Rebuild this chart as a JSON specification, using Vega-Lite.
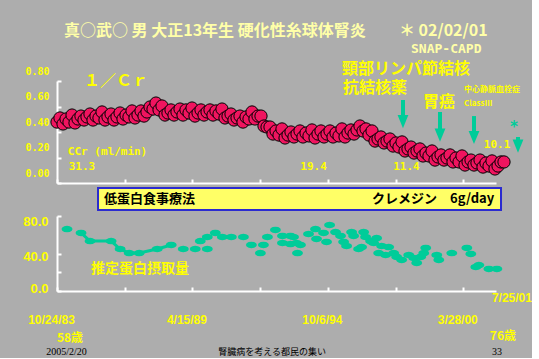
{
 "$schema": "https://vega.github.io/schema/vega-lite/v6.json",
 "background": "#ADADAD",
 "padding": {"left": 22, "top": 23, "right": 0, "bottom": 0},
 "autosize": {"type": "pad"},
 "bounds": "flush",
 "spacing": 33,
 "config": {
  "view": {"stroke": null},
  "axis": {"domainColor": "white", "domainWidth": 2, "tickColor": "white", "tickWidth": 2, "tickSize": -4, "grid": false, "labelColor": "#FFFF00", "labelFlush": false, "labelOverlap": false}
 },
 "datasets": {
  "cr": [
   {"d":0,"v":0.478},{"d":44,"v":0.510},{"d":89,"v":0.463},{"d":133,"v":0.502},{"d":177,"v":0.478},{"d":222,"v":0.533},{"d":266,"v":0.471},{"d":310,"v":0.502},{"d":354,"v":0.525},{"d":399,"v":0.494},
   {"d":443,"v":0.518},{"d":487,"v":0.541},{"d":532,"v":0.494},{"d":576,"v":0.525},{"d":620,"v":0.510},{"d":665,"v":0.557},{"d":709,"v":0.494},{"d":753,"v":0.518},{"d":798,"v":0.541},{"d":842,"v":0.494},
   {"d":886,"v":0.518},{"d":931,"v":0.549},{"d":975,"v":0.502},{"d":1019,"v":0.533},{"d":1063,"v":0.518},{"d":1108,"v":0.565},{"d":1152,"v":0.510},{"d":1196,"v":0.533},{"d":1241,"v":0.565},{"d":1285,"v":0.525},
   {"d":1329,"v":0.557},{"d":1374,"v":0.596},{"d":1418,"v":0.580},{"d":1462,"v":0.627},{"d":1507,"v":0.573},{"d":1551,"v":0.604},{"d":1595,"v":0.533},{"d":1639,"v":0.549},{"d":1684,"v":0.573},{"d":1728,"v":0.533},
   {"d":1772,"v":0.557},{"d":1817,"v":0.580},{"d":1861,"v":0.533},{"d":1905,"v":0.573},{"d":1950,"v":0.549},{"d":1994,"v":0.588},{"d":2038,"v":0.525},{"d":2083,"v":0.549},{"d":2127,"v":0.573},{"d":2171,"v":0.533},
   {"d":2216,"v":0.557},{"d":2260,"v":0.573},{"d":2304,"v":0.533},{"d":2348,"v":0.565},{"d":2393,"v":0.541},{"d":2437,"v":0.580},{"d":2481,"v":0.510},{"d":2526,"v":0.525},{"d":2570,"v":0.541},{"d":2614,"v":0.494},
   {"d":2659,"v":0.510},{"d":2703,"v":0.525},{"d":2747,"v":0.478},{"d":2792,"v":0.518},{"d":2836,"v":0.502},{"d":2880,"v":0.557},{"d":2924,"v":0.502},{"d":2969,"v":0.525},{"d":3013,"v":0.525},{"d":3057,"v":0.447},
   {"d":3102,"v":0.439},{"d":3146,"v":0.439},{"d":3190,"v":0.384},{"d":3235,"v":0.408},{"d":3279,"v":0.376},{"d":3323,"v":0.424},{"d":3368,"v":0.353},{"d":3412,"v":0.376},{"d":3456,"v":0.400},{"d":3500,"v":0.361},
   {"d":3545,"v":0.384},{"d":3589,"v":0.408},{"d":3633,"v":0.361},{"d":3678,"v":0.392},{"d":3722,"v":0.369},{"d":3766,"v":0.416},{"d":3811,"v":0.353},{"d":3855,"v":0.384},{"d":3899,"v":0.408},{"d":3944,"v":0.361},
   {"d":3988,"v":0.384},{"d":4032,"v":0.408},{"d":4077,"v":0.361},{"d":4121,"v":0.392},{"d":4165,"v":0.369},{"d":4209,"v":0.424},{"d":4254,"v":0.361},{"d":4298,"v":0.392},{"d":4342,"v":0.416},{"d":4387,"v":0.384},
   {"d":4431,"v":0.416},{"d":4475,"v":0.447},{"d":4520,"v":0.408},{"d":4564,"v":0.424},{"d":4608,"v":0.376},{"d":4653,"v":0.408},{"d":4697,"v":0.329},{"d":4741,"v":0.345},{"d":4785,"v":0.361},{"d":4830,"v":0.314},
   {"d":4874,"v":0.329},{"d":4918,"v":0.345},{"d":4963,"v":0.290},{"d":5007,"v":0.314},{"d":5051,"v":0.282},{"d":5096,"v":0.322},{"d":5140,"v":0.251},{"d":5184,"v":0.267},{"d":5229,"v":0.282},{"d":5273,"v":0.235},
   {"d":5317,"v":0.251},{"d":5361,"v":0.267},{"d":5406,"v":0.212},{"d":5450,"v":0.235},{"d":5494,"v":0.212},{"d":5539,"v":0.251},{"d":5583,"v":0.180},{"d":5627,"v":0.204},{"d":5672,"v":0.220},{"d":5716,"v":0.180},
   {"d":5760,"v":0.196},{"d":5805,"v":0.220},{"d":5849,"v":0.165},{"d":5893,"v":0.196},{"d":5938,"v":0.165},{"d":5982,"v":0.212},{"d":6026,"v":0.141},{"d":6071,"v":0.165},{"d":6115,"v":0.180},{"d":6159,"v":0.141},
   {"d":6203,"v":0.157},{"d":6248,"v":0.180},{"d":6292,"v":0.125},{"d":6336,"v":0.157},{"d":6381,"v":0.133},{"d":6425,"v":0.173},{"d":6469,"v":0.110},{"d":6514,"v":0.133},{"d":6558,"v":0.165},{"d":6602,"v":0.165}
  ],
  "prot": [
   {"d":148,"v":66.1},{"d":355,"v":61.9},{"d":488,"v":53.3},{"d":799,"v":53.3},{"d":932,"v":44.8},{"d":1066,"v":40.5},{"d":1214,"v":40.5},{"d":1480,"v":44.8},{"d":1687,"v":49.1},{"d":1865,"v":44.8},
   {"d":2042,"v":44.8},{"d":2220,"v":44.8},{"d":2116,"v":53.3},{"d":2220,"v":57.6},{"d":2338,"v":61.9},{"d":2442,"v":57.6},{"d":2575,"v":57.6},{"d":2753,"v":57.6},{"d":2871,"v":49.1},{"d":3004,"v":40.5},
   {"d":3049,"v":49.1},{"d":3108,"v":57.6},{"d":3226,"v":65.1},{"d":3330,"v":58.7},{"d":3448,"v":58.7},{"d":3330,"v":51.2},{"d":3448,"v":50.1},{"d":3552,"v":40.5},{"d":3596,"v":49.1},{"d":3493,"v":57.6},
   {"d":3537,"v":51.2},{"d":3715,"v":60.8},{"d":3818,"v":66.1},{"d":3937,"v":61.9},{"d":3833,"v":55.5},{"d":4026,"v":70.4},{"d":4114,"v":62.9},{"d":4188,"v":58.7},{"d":3981,"v":52.3},{"d":4233,"v":52.3},
   {"d":4277,"v":48.0},{"d":4351,"v":62.9},{"d":4381,"v":58.7},{"d":4529,"v":62.9},{"d":4455,"v":44.8},{"d":4499,"v":46.9},{"d":4558,"v":57.6},{"d":4632,"v":53.3},{"d":4677,"v":51.2},{"d":4721,"v":56.5},
   {"d":4795,"v":48.0},{"d":4899,"v":46.9},{"d":4751,"v":40.5},{"d":4854,"v":38.4},{"d":4973,"v":40.5},{"d":5017,"v":36.3},{"d":5091,"v":33.1},{"d":5195,"v":38.4},{"d":5269,"v":35.2},{"d":5313,"v":29.9},
   {"d":5372,"v":36.3},{"d":5417,"v":40.5},{"d":5446,"v":45.9},{"d":5609,"v":38.4},{"d":5639,"v":33.1},{"d":5831,"v":40.5},{"d":6053,"v":45.9},{"d":6112,"v":39.5},{"d":6231,"v":27.7},{"d":6186,"v":25.6},
   {"d":6379,"v":23.5},{"d":6497,"v":23.5}
  ]
 },
 "vconcat": [
  {
   "width": 439,
   "height": 102,
   "encoding": {
    "x": {"field": "d", "type": "quantitative", "scale": {"domain": [0, 6484], "nice": false, "zero": false},
          "axis": {"values": [0, 1000, 2000, 3000, 4000, 5000, 6000], "labels": false, "title": null}},
    "y": {"field": "v", "type": "quantitative", "scale": {"domain": [0, 0.8], "nice": false},
          "axis": {"values": [0, 0.2, 0.4, 0.6, 0.8], "format": ".2f", "labelOffset": -10, "labelPadding": 12, "labelFont": "DejaVu Sans Mono", "labelFontWeight": "bold", "labelFontSize": 10, "title": null}}
   },
   "layer": [
    {
     "data": {"values": [{"d": 606, "d2": 6558, "v": -0.039, "v2": -0.212}]},
     "mark": {"type": "rect", "fill": "#FFFF66", "stroke": "#2B2BD0", "strokeWidth": 2},
     "encoding": {"x2": {"field": "d2"}, "y2": {"field": "v2"}}
    },
    {
     "data": {"values": [{"d": 694, "v": -0.125, "t": "低蛋白食事療法"}, {"d": 4653, "v": -0.125, "t": "クレメジン　6g/day"}]},
     "mark": {"type": "text", "align": "left", "baseline": "middle", "font": "Noto Sans CJK JP", "fontWeight": "bold", "fontSize": 13, "color": "black"},
     "encoding": {"text": {"field": "t"}}
    },
    {
     "data": {"name": "cr"},
     "mark": {"type": "point", "shape": "circle", "filled": true, "fill": "#F0145F", "stroke": "black", "strokeWidth": 1, "size": 150, "opacity": 1}
    },
    {
     "data": {"values": [{"d": 5110, "v": 0.651, "v2": 0.525}, {"d": 5657, "v": 0.557, "v2": 0.408}, {"d": 6159, "v": 0.525, "v2": 0.392}, {"d": 6809, "v": 0.361, "v2": 0.322}]},
     "mark": {"type": "rule", "color": "#00CC99", "strokeWidth": 4},
     "encoding": {"y2": {"field": "v2"}}
    },
    {
     "data": {"values": [{"d": 5110, "v": 0.482}, {"d": 5657, "v": 0.376}, {"d": 6159, "v": 0.357}, {"d": 6809, "v": 0.29}]},
     "mark": {"type": "point", "shape": "M-0.9,-1.1L0.9,-1.1L0,1.1Z", "filled": true, "color": "#00CC99", "size": 144, "opacity": 1}
    },
    {
     "data": {"values": [
      {"d": 4209, "v": 0.894, "t": "頸部リンパ節結核"},
      {"d": 4224, "v": 0.745, "t": "抗結核薬"},
      {"d": 5406, "v": 0.635, "t": "胃癌"},
      {"d": 399, "v": 0.8, "t": "１／Ｃｒ"}
     ]},
     "mark": {"type": "text", "align": "left", "baseline": "middle", "font": "Noto Sans CJK JP", "fontWeight": "bold", "fontSize": 16, "color": "#FFFF00"},
     "encoding": {"text": {"field": "t"}}
    },
    {
     "data": {"values": [{"d": 6011, "v": 0.729, "t": "中心静脈血栓症"}, {"d": 6011, "v": 0.62, "t": "ClassⅢ"}]},
     "mark": {"type": "text", "align": "left", "baseline": "middle", "font": "Noto Sans CJK JP", "fontWeight": "bold", "fontSize": 8, "color": "#FFFF00"},
     "encoding": {"text": {"field": "t"}}
    },
    {
     "data": {"values": [
      {"d": 746, "v": 0.243, "t": "CCr (ml/min)"},
      {"d": 369, "v": 0.125, "t": "31.3"},
      {"d": 3789, "v": 0.125, "t": "19.4"},
      {"d": 5162, "v": 0.125, "t": "11.4"},
      {"d": 6499, "v": 0.298, "t": "10.1"}
     ]},
     "mark": {"type": "text", "align": "center", "baseline": "middle", "font": "DejaVu Sans Mono", "fontWeight": "bold", "fontSize": 11, "color": "#FFFF00"},
     "encoding": {"text": {"field": "t"}}
    },
    {
     "data": {"values": [{"d": 6750, "v": 0.439, "t": "*"}]},
     "mark": {"type": "text", "align": "center", "baseline": "middle", "font": "DejaVu Sans Mono", "fontWeight": "bold", "fontSize": 15, "color": "#00CC99"},
     "encoding": {"text": {"field": "t"}}
    },
    {
     "data": {"values": [
      {"d": 103, "v": 1.192, "t": "真○武○  男  大正13年生  硬化性糸球体腎炎"},
      {"d": 5051, "v": 1.192, "t": "＊ 02/02/01"}
     ]},
     "mark": {"type": "text", "align": "left", "baseline": "middle", "font": "Noto Sans CJK JP", "fontWeight": "bold", "fontSize": 16, "color": "#FFFFA8"},
     "encoding": {"text": {"field": "t"}}
    },
    {
     "data": {"values": [{"d": 5229, "v": 1.051, "t": "SNAP-CAPD"}]},
     "mark": {"type": "text", "align": "left", "baseline": "middle", "font": "DejaVu Sans Mono", "fontWeight": "bold", "fontSize": 13, "color": "#FFFFA8"},
     "encoding": {"text": {"field": "t"}}
    }
   ]
  },
  {
   "width": 439,
   "height": 75,
   "encoding": {
    "x": {"field": "d", "type": "quantitative", "scale": {"domain": [0, 6484], "nice": false, "zero": false},
          "axis": {"values": [0, 1000, 2000, 3000, 4000, 5000, 6000], "labelExpr": "datum.value == 0 ? '10/24/83' : datum.value == 2000 ? '4/15/89' : datum.value == 4000 ? '10/6/94' : datum.value == 6000 ? '3/28/00' : ''",
                   "labelOffset": -6, "labelPadding": 27, "labelFont": "Liberation Sans", "labelFontWeight": "bold", "labelFontSize": 12, "title": null}},
    "y": {"field": "v", "type": "quantitative", "scale": {"domain": [0, 80], "nice": false},
          "axis": {"values": [0, 20, 40, 80], "labelExpr": "datum.value == 20 ? '' : format(datum.value, '.1f')",
                   "labelOffset": {"condition": [{"test": "datum.value == 0", "value": -3}, {"test": "datum.value == 40", "value": 3}], "value": 5},
                   "labelPadding": 13, "labelFont": "Liberation Sans", "labelFontWeight": "bold", "labelFontSize": 13, "title": null}}
   },
   "layer": [
    {
     "data": {"name": "prot"},
     "transform": [{"filter": "datum.d >= 300 && datum.d <= 1700"}],
     "mark": {"type": "line", "color": "#00CC99", "strokeWidth": 3},
     "encoding": {}
    },
    {
     "data": {"name": "prot"},
     "mark": {"type": "point", "shape": "M-1,0L-0.87,-0.3L-0.5,-0.52L0,-0.6L0.5,-0.52L0.87,-0.3L1,0L0.87,0.3L0.5,0.52L0,0.6L-0.5,0.52L-0.87,0.3Z", "filled": true, "color": "#00CC99", "size": 121, "opacity": 1}
    },
    {
     "data": {"values": [{"d": 503, "v": 23.5, "t": "推定蛋白摂取量"}]},
     "mark": {"type": "text", "align": "left", "baseline": "middle", "font": "Noto Sans CJK JP", "fontWeight": "bold", "fontSize": 14, "color": "#FFFF00"},
     "encoding": {"text": {"field": "t"}}
    },
    {
     "data": {"values": [{"d": 6719, "v": -7.5, "t": "7/25/01"}]},
     "mark": {"type": "text", "align": "center", "baseline": "middle", "font": "Liberation Sans", "fontWeight": "bold", "fontSize": 12, "color": "#FFFF00"},
     "encoding": {"text": {"field": "t"}}
    },
    {
     "data": {"values": [{"d": 192, "v": -50.1, "t": "58歳"}, {"d": 6586, "v": -48, "t": "76歳"}]},
     "mark": {"type": "text", "align": "center", "baseline": "middle", "font": "Noto Sans CJK JP", "fontWeight": "bold", "fontSize": 12, "color": "#FFFF00"},
     "encoding": {"text": {"field": "t"}}
    },
    {
     "data": {"values": [{"d": 140, "v": -65.1, "t": "2005/2/20"}, {"d": 6497, "v": -65.1, "t": "33"}]},
     "mark": {"type": "text", "align": "center", "baseline": "middle", "font": "Liberation Serif", "fontSize": 10, "color": "black"},
     "encoding": {"text": {"field": "t"}}
    },
    {
     "data": {"values": [{"d": 2383, "v": -65.1, "t": "腎臓病を考える都民の集い"}]},
     "mark": {"type": "text", "align": "left", "baseline": "middle", "font": "Noto Sans CJK JP", "fontSize": 9, "color": "black"},
     "encoding": {"text": {"field": "t"}}
    }
   ]
  }
 ]
}
